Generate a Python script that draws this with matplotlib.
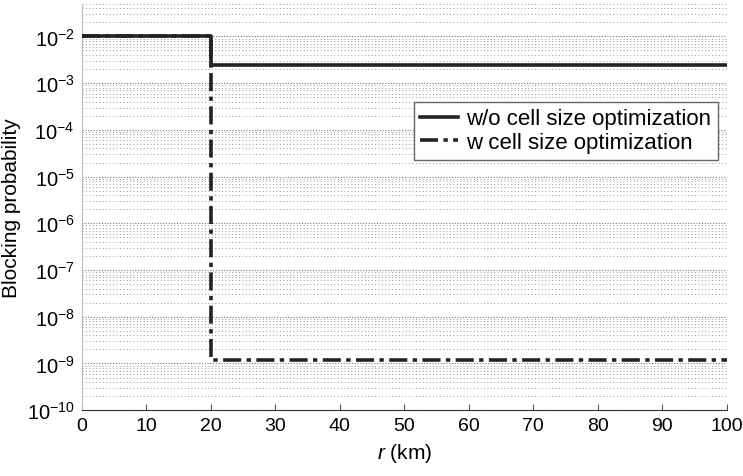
import matplotlib
matplotlib.use('Agg')
import matplotlib.pyplot as plt

plt.rcParams['font.family'] = ['Liberation Sans', 'DejaVu Sans']
plt.rcParams['mathtext.fontset'] = 'custom'
plt.rcParams['mathtext.rm'] = 'Liberation Sans'
plt.rcParams['mathtext.it'] = 'Liberation Sans:italic'

# === DATA ===
r_km = [0, 20, 100]
p_without = [1e-2, 2.4e-3, 2.4e-3]
p_with = [1e-2, 1.2e-9, 1.2e-9]
x_ticks = [0, 10, 20, 30, 40, 50, 60, 70, 80, 90, 100]

# === SETUP PLOT ===
fig = plt.figure(figsize=(7.43, 4.77), dpi=100)
ax = fig.add_axes([0.110, 0.138, 0.868, 0.852])

ax.step(r_km, p_with, where='post', color='#222222', lw=2.6,
        linestyle=(0, (5, 1.5, 1.2, 1.5)), label='w cell size optimization', zorder=3)
ax.step(r_km, p_without, where='post', color='#222222', lw=2.6,
        label='w/o cell size optimization', zorder=4)

ax.set_yscale('log')
ax.set_xlim(0, 100)
ax.set_ylim(1e-10, 5e-2)
ax.set_xticks(x_ticks)
ax.set_yticks([10.0**k for k in range(-10, -1)])

ax.grid(True, which='major', axis='y', color='#777777', linestyle=(0, (1, 1.5)), lw=0.8)
ax.grid(True, which='minor', axis='y', color='#999999', linestyle=(0, (1, 2.5)), lw=0.7)

for s in ['top', 'right']:
    ax.spines[s].set_visible(False)
ax.spines['left'].set_color('#bbbbbb')
ax.spines['bottom'].set_color('#333333')
ax.tick_params(axis='x', direction='in', length=4, labelsize=14, pad=5, color='#555555')
ax.tick_params(axis='y', which='both', length=0, labelsize=14.5, pad=5)

ax.set_xlabel('$r$ (km)', fontsize=15, labelpad=5)
ax.set_ylabel('Blocking probability', fontsize=15, labelpad=4)

handles, labels = ax.get_legend_handles_labels()
ax.legend(handles[::-1], labels[::-1], loc='upper right', bbox_to_anchor=(0.986, 0.759),
          fontsize=16, frameon=True, fancybox=False, edgecolor='#666666',
          framealpha=1, borderpad=0.3, labelspacing=0.12, handlelength=1.7,
          handletextpad=0.35, borderaxespad=0)

fig.savefig('out.png', dpi=100)
